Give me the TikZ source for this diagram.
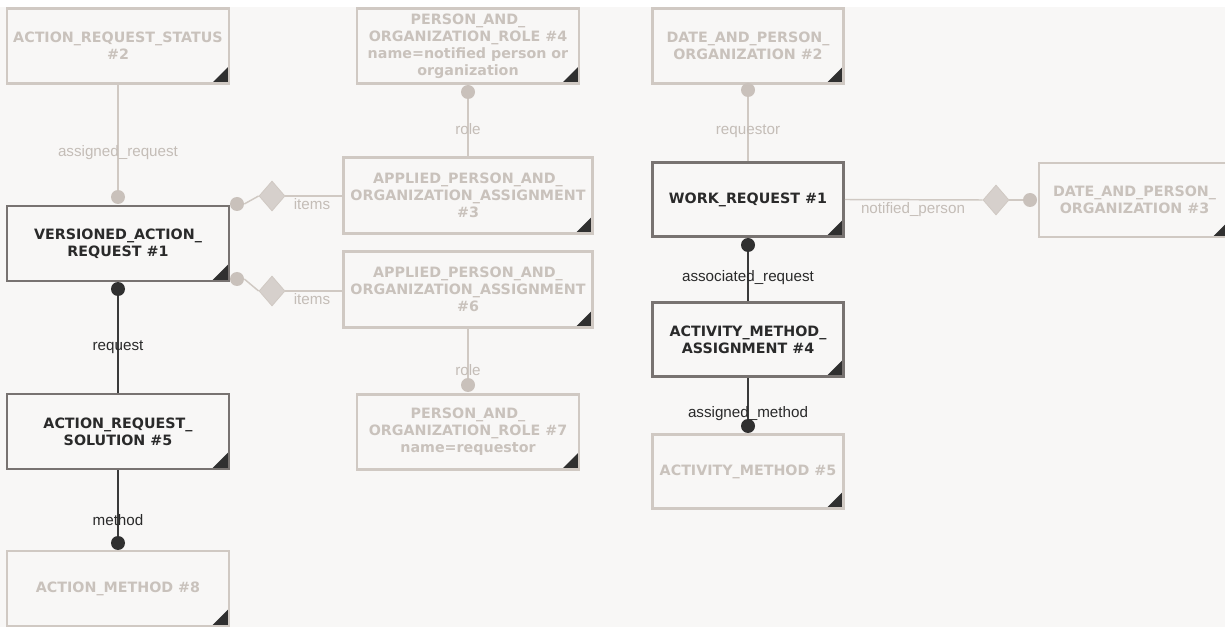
\documentclass[tikz,border=0pt]{standalone}
\usepackage{fontspec}
\setmainfont{DejaVu Sans}
\newfontfamily\boxff{DejaVu Sans}
\newfontfamily\lblff{Liberation Sans}
\usetikzlibrary{shapes.geometric}
\definecolor{bgc}{HTML}{F8F7F6}
\definecolor{lineL}{HTML}{D0C9C3}
\definecolor{textL}{HTML}{C9C2BC}
\definecolor{lblL}{HTML}{C4BDB7}
\definecolor{dotL}{HTML}{C9C1BB}
\definecolor{diaL}{HTML}{D6D0CC}
\definecolor{lineD}{HTML}{787371}
\definecolor{textD}{HTML}{2A2A2A}
\definecolor{connD}{HTML}{3A3A3A}
\definecolor{cornerc}{HTML}{303030}
\tikzset{
  boxbase/.style={rectangle, line width=2pt, fill=bgc, align=center, inner sep=0pt,
    font=\boxff\bfseries\fontsize{10.7}{12.75}\selectfont,
    minimum width=166.5pt, minimum height=56.25pt,
    path picture={\fill[cornerc] (path picture bounding box.south east) -- ++(-13pt,0pt) -- ++(13pt,13pt) -- cycle;}},
  lbox/.style={boxbase, draw=lineL, text=textL},
  dbox/.style={boxbase, draw=lineD, text=textD},
  dotlight/.style={circle, fill=dotL, inner sep=0pt, minimum size=10.5pt},
  dotdark/.style={circle, fill=cornerc, inner sep=0pt, minimum size=10.5pt},
  dia/.style={diamond, fill=diaL, draw=lineL, line width=0.6pt, inner sep=0pt, minimum width=19.5pt, minimum height=22.5pt},
  connL/.style={draw=lineL, line width=1.1pt},
  connD/.style={draw=connD, line width=1.4pt},
  lblLight/.style={text=lblL, font=\lblff\fontsize{11.4}{13}\selectfont, inner sep=0pt},
  lblDark/.style={text=textD, font=\lblff\fontsize{11.4}{13}\selectfont, inner sep=0pt},
}
\begin{document}
\begin{tikzpicture}[x=0.75pt,y=-0.75pt]
\fill[white] (0,0) rectangle (1225,627);
\fill[bgc] (0,7) rectangle (1225,627);
\useasboundingbox (0,0) rectangle (1225,627);

% boxes
\node[lbox] (s2) at (118,46) {ACTION\_REQUEST\_STATUS\\\#2};
\node[dbox] (v1) at (118,243.5) {VERSIONED\_ACTION\_\\REQUEST \#1};
\node[dbox] (sol5) at (118,431.5) {ACTION\_REQUEST\_\\SOLUTION \#5};
\node[lbox] (m8) at (118,588.5) {ACTION\_METHOD \#8};
\node[lbox] (r4) at (468,46) {PERSON\_AND\_\\ORGANIZATION\_ROLE \#4\\name=notified person or\\organization};
\node[lbox, minimum width=186.75pt, minimum height=57pt] (a3) at (468,195.5) {APPLIED\_PERSON\_AND\_\\ORGANIZATION\_ASSIGNMENT\\\#3};
\node[lbox, minimum width=186.75pt, minimum height=57pt] (a6) at (468,289.5) {APPLIED\_PERSON\_AND\_\\ORGANIZATION\_ASSIGNMENT\\\#6};
\node[lbox] (r7) at (468,432) {PERSON\_AND\_\\ORGANIZATION\_ROLE \#7\\name=requestor};
\node[lbox, minimum width=143.25pt] (d2) at (748,46) {DATE\_AND\_PERSON\_\\ORGANIZATION \#2};
\node[dbox, minimum width=143.25pt, minimum height=55.5pt] (w1) at (748,199.5) {WORK\_REQUEST \#1};
\node[lbox, minimum width=143.25pt, minimum height=55.5pt] (d3) at (1134.5,200) {DATE\_AND\_PERSON\_\\ORGANIZATION \#3};
\node[dbox, minimum width=143.25pt, minimum height=55.5pt] (am4) at (748,339.5) {ACTIVITY\_METHOD\_\\ASSIGNMENT \#4};
\node[lbox, minimum width=143.25pt, minimum height=55.5pt] (am5) at (748,471.5) {ACTIVITY\_METHOD \#5};

% dots and diamonds
\node[dotlight] (p1) at (118,197) {};
\node[dotlight] (q1) at (237,204) {};
\node[dia] (dm1) at (272,196) {};
\node[dotlight] (q2) at (237,279) {};
\node[dia] (dm2) at (272,291) {};
\node[dotdark] (dd1) at (118,289) {};
\node[dotdark] (dd2) at (118,543) {};
\node[dotlight] (rr1) at (468,92) {};
\node[dotlight] (rr2) at (468,385) {};
\node[dotlight] (rq) at (748,90) {};
\node[dia] (dm3) at (996,200) {};
\node[dotlight] (np) at (1030,200) {};
\node[dotdark] (dd3) at (748,245) {};
\node[dotdark] (dd4) at (748,426) {};

% connectors
\draw[connL] (s2.south) -- (p1.north);
\draw[connL] (q1.east) -- (dm1.west);
\draw[connL] (dm1.east) -- (dm1.east -| a3.west);
\draw[connL] (q2.east) -- (dm2.west);
\draw[connL] (dm2.east) -- (dm2.east -| a6.west);
\draw[connD] (dd1.south) -- (sol5.north);
\draw[connD] (sol5.south) -- (dd2.north);
\draw[connL] (a3.north) -- (rr1.south);
\draw[connL] (a6.south) -- (rr2.north);
\draw[connL] (w1.north) -- (rq.south);
\draw[connL] (w1.east) -- (dm3.west);
\draw[connL] (dm3.east) -- (np.west);
\draw[connD] (dd3.south) -- (am4.north);
\draw[connD] (am4.south) -- (dd4.north);

% labels
\node[lblLight] (l1) at (118,153) {assigned\_request};
\node[lblLight] (l2) at (312,204) {items};
\node[lblLight] (l3) at (312,299) {items};
\node[lblDark] (l4) at (118,347) {request};
\node[lblDark] (l5) at (118,520) {method};
\node[lblLight] (l6) at (468,129) {role};
\node[lblLight] (l7) at (468,370) {role};
\node[lblLight] (l8) at (748,131) {requestor};
\node[lblLight] (l9) at (913,210) {notified\_person};
\node[lblDark] (l10) at (748,278) {associated\_request};
\node[lblDark] (l11) at (748,414) {assigned\_method};
\end{tikzpicture}
\end{document}
